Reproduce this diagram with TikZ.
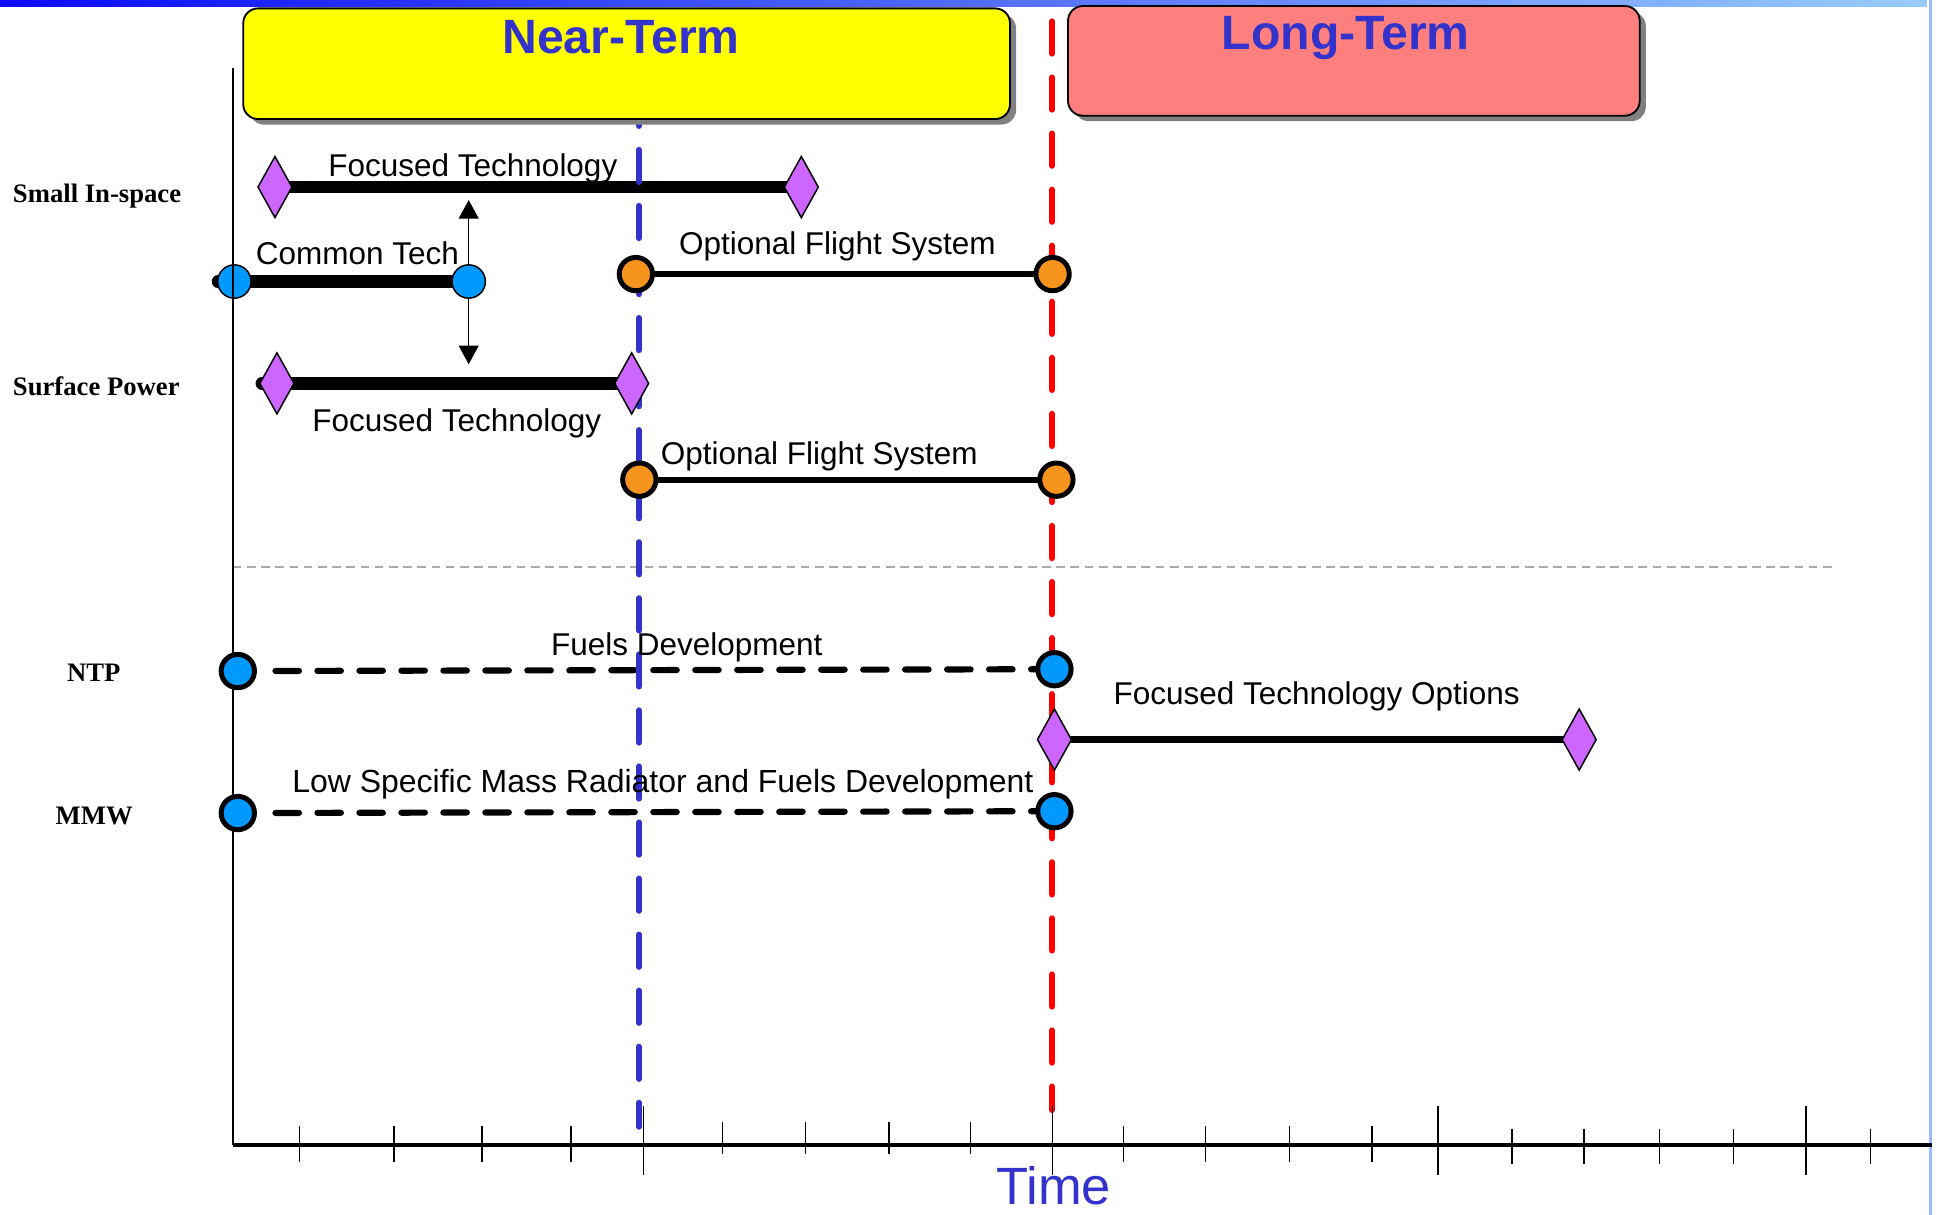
\documentclass[tikz,border=0pt]{standalone}
\usepackage{fontspec}
\setmainfont{Liberation Sans}
\newfontfamily\rowfont{Liberation Serif}
\usetikzlibrary{arrows.meta,shapes.geometric,shadows}
\pgfdeclarelayer{back}
\pgfsetlayers{back,main}
\definecolor{barleft}{HTML}{0A0AFF}
\definecolor{barright}{HTML}{99CCFF}
\definecolor{edgeblue}{HTML}{99BBFF}
\definecolor{nearyellow}{HTML}{FFFF00}
\definecolor{longpink}{HTML}{FF7F7F}
\definecolor{termblue}{HTML}{3333CC}
\definecolor{msblue}{HTML}{0099FF}
\definecolor{msorange}{HTML}{F7941D}
\definecolor{ftpurple}{HTML}{CC66FF}
\definecolor{sepgray}{HTML}{AAAAAA}
\definecolor{shadowgray}{HTML}{808080}
\tikzset{termbox/.style={draw,line width=1.5pt,rounded corners=12pt,inner sep=0pt,drop shadow={shadow xshift=5pt,shadow yshift=-4.5pt,fill=shadowgray,opacity=1}},
termtxt/.style={text=termblue,font=\bfseries\fontsize{39}{46}\selectfont,inner sep=0pt,anchor=base},
rowlbl/.style={font=\rowfont\bfseries\fontsize{21.6}{25}\selectfont,inner sep=0pt,anchor=base west},
lbl/.style={font=\fontsize{25.5}{30}\selectfont,inner sep=0pt,anchor=base},
ftgem/.style={diamond,draw,line width=1.2pt,fill=ftpurple,minimum width=28pt,minimum height=50pt,inner sep=0pt},
msdot/.style={circle,draw,line width=1.2pt,fill=msblue,minimum size=27pt,inner sep=0pt},
msring/.style={circle,draw,line width=4pt,minimum size=27pt,inner sep=0pt},
tbar/.style={line width=10pt},
thinbar/.style={line width=4.6pt},
devline/.style={line width=5pt,line cap=round,dash pattern=on 19pt off 15pt,dash phase=19pt},
tmark/.style={line width=1.2pt},
vdash/.style={line width=5pt,line cap=round,dash pattern=on 26pt off 19.4pt},
sepline/.style={sepgray,line width=1.4pt,dash pattern=on 7pt off 4.5pt},
updown/.style={<->,>={Triangle[width=16pt,length=15pt]},line width=1.3pt}}

\begin{document}
\begin{tikzpicture}[x=1pt,y=-1pt]
\useasboundingbox (0,0) rectangle (1568,984);
\shade[left color=barleft,right color=barright] (0,0) rectangle (1560.5,5.4);
\fill[edgeblue] (1562.3,0) rectangle (1565,984);
\draw[line width=2.7pt] (188.5,927.4) -- (1565,927.4);
\foreach \x in {242.5,319,390.5,462.5,910,976.5,1044.5,1111}\draw[tmark] (\x,912) -- (\x,941);
\foreach \x in {585,652.5,720,786}\draw[tmark] (\x,909) -- (\x,935);
\foreach \x in {1224.5,1283,1344,1404,1515}\draw[tmark] (\x,914) -- (\x,942.5);
\foreach \x in {521,852.5,1164.7,1462.5}\draw[tmark] (\x,896) -- (\x,952);
\node[termbox,fill=nearyellow,minimum width=621pt,minimum height=89.6pt] (near) at (507.5,51.6) {};
\node[termbox,fill=longpink,minimum width=463pt,minimum height=88.8pt] (long) at (1096.5,49.3) {};
\node[termtxt] (neart) at (503,43) {Near-Term};
\node[termtxt] (longt) at (1090,40) {Long-Term};
\node[ftgem] (d1) at (222.7,151.5) {};
\node[ftgem] (d2) at (649,151.5) {};
\node[msdot] (c1) at (189.8,228) {};
\node[msdot] (c2) at (379.6,228) {};
\node[msring,fill=msorange] (o1) at (515,222) {};
\node[msring,fill=msorange] (o2) at (852.5,222) {};
\node[ftgem] (d3) at (224.3,310.5) {};
\node[ftgem] (d4) at (511.6,310.5) {};
\node[msring,fill=msorange] (o3) at (517.8,388.5) {};
\node[msring,fill=msorange] (o4) at (855.6,388.5) {};
\draw[line width=1.3pt] (188.5,55.3) -- (188.5,927.4);
\node[msring,fill=msblue] (n1) at (192.6,543.5) {};
\node[msring,fill=msblue] (n2) at (854,542) {};
\node[ftgem] (f1) at (854,599) {};
\node[ftgem] (f2) at (1279,599) {};
\node[msring,fill=msblue] (m1) at (192.6,658.5) {};
\node[msring,fill=msblue] (m2) at (854,657) {};
\coordinate (ctleft) at (176.5,228);
\coordinate (spleft) at (212,310.5);
\coordinate (ctup) at (379.6,162);
\coordinate (ctdn) at (379.6,295);
\begin{pgfonlayer}{back}
\draw[sepline] (188.5,459) -- (1484,459);
\draw[tbar] (d1.center) -- (d2.center);
\draw[tbar,line cap=round] (ctleft) -- (c2.center);
\draw[updown] (ctup) -- (ctdn);
\draw[thinbar] (o1.center) -- (o2.center);
\draw[tbar,line cap=round] (spleft) -- (d4.center);
\draw[thinbar] (o3.center) -- (o4.center);
\draw[devline] (n1) -- (n2);
\draw[line width=5.4pt] (f1.center) -- (f2.center);
\draw[devline] (m1) -- (m2);
\draw[vdash,termblue] (517.5,76) -- (517.5,912.5);
\draw[vdash,red] (852,17.4) -- (852,899);
\end{pgfonlayer}
\node[rowlbl] (r1) at (10.3,164) {Small In-space};
\node[rowlbl] (r2) at (10.3,320) {Surface Power};
\node[rowlbl,anchor=base] (r3) at (76,552) {NTP};
\node[rowlbl,anchor=base] (r4) at (76.3,668) {MMW};
\node[lbl] (l1) at (383,143) {Focused Technology};
\node[lbl] (l2) at (289.5,214.6) {Common Tech};
\node[lbl] (l3) at (678.2,206) {Optional Flight System};
\node[lbl] (l4) at (370,349.6) {Focused Technology};
\node[lbl] (l5) at (663.5,376) {Optional Flight System};
\node[lbl] (l6) at (556.2,531.3) {Fuels Development};
\node[lbl] (l7) at (1066.3,570.4) {Focused Technology Options};
\node[lbl,font=\fontsize{25.9}{31}\selectfont] (l8) at (536.9,642) {Low Specific Mass Radiator and Fuels Development};
\node[lbl,text=termblue,font=\fontsize{42.5}{48}\selectfont] (tm) at (853.5,975.5) {Time};
\end{tikzpicture}
\end{document}
